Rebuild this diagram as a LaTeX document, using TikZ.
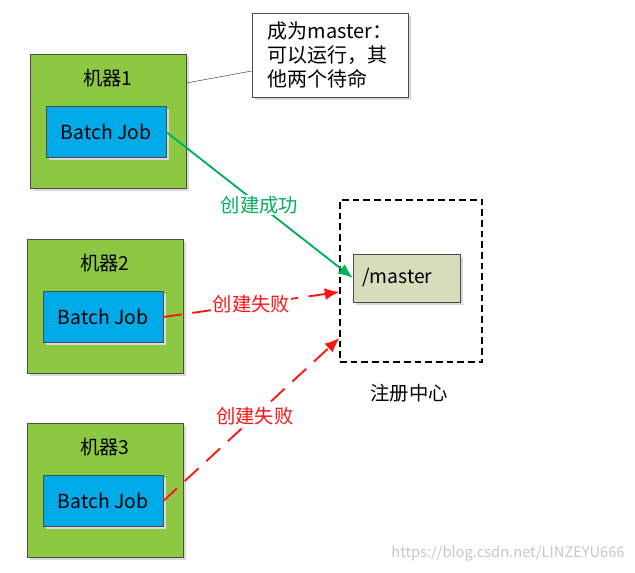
\documentclass[tikz,border=0pt]{standalone}
\usepackage{fontspec}
\setmainfont{Noto Sans CJK SC}
\usetikzlibrary{shadows,arrows.meta}
\definecolor{machgreen}{RGB}{141,200,66}
\definecolor{jobblue}{RGB}{0,170,232}
\definecolor{masterfill}{RGB}{214,220,188}
\definecolor{okgreen}{RGB}{0,176,90}
\definecolor{failred}{RGB}{255,20,20}
\begin{document}
\begin{tikzpicture}[x=0.75pt, y=-0.75pt, >={Latex[length=11pt,width=9pt]}, font=\fontsize{14.5pt}{17pt}\selectfont,
	shade/.style={drop shadow={shadow xshift=2pt, shadow yshift=-2pt, fill=black!15, opacity=1}},
	machine/.style={draw=black!70, fill=machgreen, minimum width=117pt, minimum height=100.5pt, shade},
	job/.style={draw=black!70, fill=jobblue, minimum width=90pt, minimum height=38.5pt, inner sep=0pt, shade},
	tag/.style={fill=white, inner sep=1pt, font=\fontsize{14.5pt}{17pt}\selectfont}]
	\useasboundingbox (0,0) rectangle (635,573);
	% machines
	\foreach \i/\x/\y in {1/108/121, 2/105/306, 3/105/490}{
		\node[machine] (m\i) at (\x,\y) {};
		\node (l\i) at (\x,\y-43) {机器\i};
		\node[job] (job\i) at (\x-2,\y+11) {Batch Job};
	}
	% registry
	\node[draw, line width=0.8pt, dash pattern=on 5pt off 3pt, minimum width=106.5pt, minimum height=121.5pt] (reg) at (411,281) {};
	\node[draw=black!70, fill=masterfill, minimum width=80pt, minimum height=36pt, shade] (master) at (406.5,278) {\hspace*{-14pt}/master};
	\node (regname) at (409,393) {注册中心};
	% note
	\node[draw=black!70, fill=white, minimum width=117pt, minimum height=63pt, align=left, inner sep=2pt, shade, font=\fontsize{15pt}{18pt}\selectfont] (note) at (330,55) {成为master：\\可以运行，其\\他两个待命};
	\draw[black!70] (m1.east |- 0,83) -- (note.west |- 0,71);
	% arrows
	\draw[->, okgreen, line width=1.4pt] (job1.east) -- (master.west) node[pos=0.5, tag, text=okgreen]{创建成功};
	\draw[->, failred, line width=1.4pt, dash pattern=on 14pt off 8pt] (job2.east) -- (reg.west |- 0,292) node[pos=0.5, tag, text=failred]{创建失败};
	\draw[->, failred, line width=1.4pt, dash pattern=on 14pt off 8pt] (job3.east) -- (reg.west |- 0,338) node[pos=0.52, tag, text=failred]{创建失败};
	\node[text=black!22, font=\fontsize{11pt}{13pt}\selectfont] (mark) at (508,553) {https://blog.csdn.net/LINZEYU666};
\end{tikzpicture}
\end{document}
